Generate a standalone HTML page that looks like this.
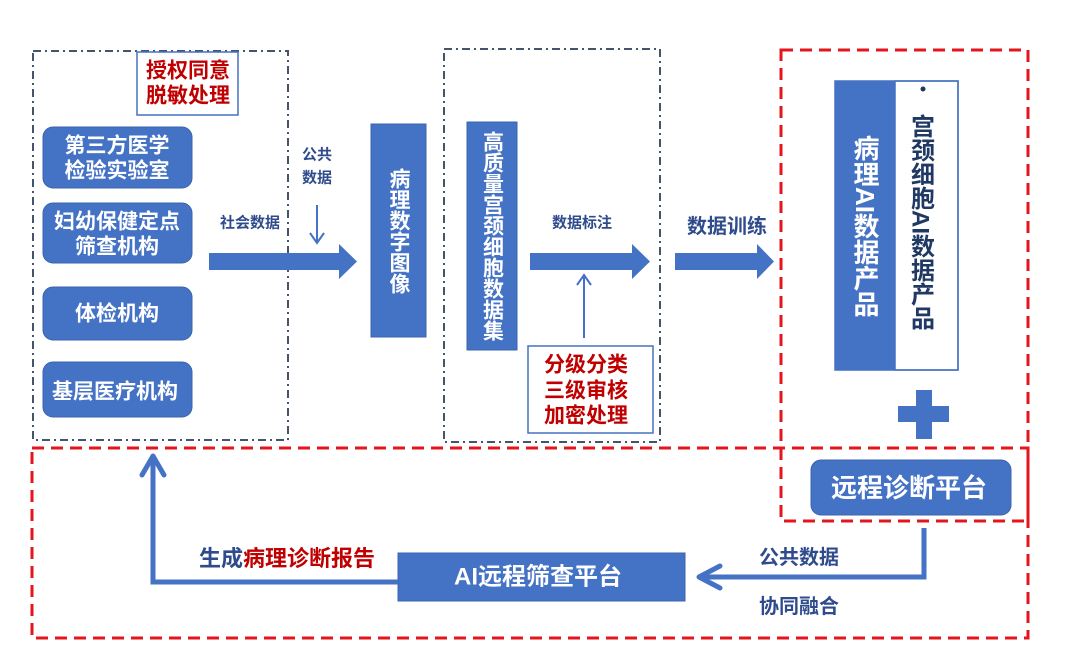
<!DOCTYPE html>
<html><head><meta charset="utf-8">
<style>
html,body{margin:0;padding:0;background:#fff;}
body{width:1074px;height:664px;position:relative;overflow:hidden;font-family:"Liberation Sans","Noto Sans CJK SC",sans-serif;}
svg{position:absolute;left:0;top:0;}
svg text{font-family:"Liberation Sans","Noto Sans CJK SC",sans-serif;font-weight:bold;}
.v{position:absolute;display:flex;align-items:center;justify-content:center;writing-mode:vertical-rl;font-weight:bold;line-height:1;}
</style></head><body>
<svg width="1074" height="664" viewBox="0 0 1074 664" xmlns="http://www.w3.org/2000/svg">
  <!-- dash-dot boxes -->
  <rect x="33" y="51" width="255" height="389" fill="none" stroke="#44546A" stroke-width="2" stroke-dasharray="8,4,2,4"/>
  <rect x="444" y="49" width="216" height="393" fill="none" stroke="#44546A" stroke-width="2" stroke-dasharray="8,4,2,4"/>

  <!-- red dashed boxes -->
  <rect x="781" y="50" width="247" height="471" fill="none" stroke="#E3161C" stroke-width="3" stroke-dasharray="12,7"/>
  <rect x="32" y="448" width="996" height="190" fill="none" stroke="#E3161C" stroke-width="3" stroke-dasharray="12,7"/>

  <!-- 授权 box -->
  <rect x="137" y="52" width="101" height="63" fill="#fff" stroke="#4472C4" stroke-width="1.5"/>
  <text x="188" y="71" font-size="21" fill="#C00000" text-anchor="middle" dominant-baseline="central">授权同意</text>
  <text x="188" y="96" font-size="21" fill="#C00000" text-anchor="middle" dominant-baseline="central">脱敏处理</text>

  <!-- left blue boxes -->
  <rect x="43" y="127" width="149" height="61" rx="10" fill="#4472C4" stroke="#3A64AE" stroke-width="1"/>
  <text x="117" y="146" font-size="21" fill="#fff" text-anchor="middle" dominant-baseline="central">第三方医学</text>
  <text x="117" y="171" font-size="21" fill="#fff" text-anchor="middle" dominant-baseline="central">检验实验室</text>

  <rect x="43" y="203" width="149" height="60" rx="10" fill="#4472C4" stroke="#3A64AE" stroke-width="1"/>
  <text x="117" y="222" font-size="21" fill="#fff" text-anchor="middle" dominant-baseline="central">妇幼保健定点</text>
  <text x="117" y="247" font-size="21" fill="#fff" text-anchor="middle" dominant-baseline="central">筛查机构</text>

  <rect x="43" y="287" width="149" height="53" rx="10" fill="#4472C4" stroke="#3A64AE" stroke-width="1"/>
  <text x="117" y="314" font-size="21" fill="#fff" text-anchor="middle" dominant-baseline="central">体检机构</text>

  <rect x="43" y="362" width="149" height="55" rx="10" fill="#4472C4" stroke="#3A64AE" stroke-width="1"/>
  <text x="115" y="392" font-size="21" fill="#fff" text-anchor="middle" dominant-baseline="central">基层医疗机构</text>

  <!-- labels -->
  <text x="250" y="223" font-size="15" fill="#2F4B8C" text-anchor="middle" dominant-baseline="central">社会数据</text>
  <text x="317" y="155" font-size="15" fill="#2F4B8C" text-anchor="middle" dominant-baseline="central">公共</text>
  <text x="317" y="178" font-size="15" fill="#2F4B8C" text-anchor="middle" dominant-baseline="central">数据</text>

  <!-- down arrow -->
  <line x1="317" y1="205" x2="317" y2="242" stroke="#4472C4" stroke-width="2"/>
  <polyline points="310,233 317,243 324,233" fill="none" stroke="#4472C4" stroke-width="2"/>

  <!-- big arrows -->
  <polygon points="209,253 339,253 339,244 357,261.5 339,279 339,270 209,270" fill="#4472C4"/>
  <polygon points="530,253 632,253 632,244 650,261.5 632,279 632,270 530,270" fill="#4472C4"/>
  <polygon points="675,253 757,253 757,244 774,261.5 757,279 757,270 675,270" fill="#4472C4"/>

  <!-- vertical blue boxes -->
  <rect x="371" y="124" width="55" height="213" fill="#4472C4" stroke="#3A64AE" stroke-width="1"/>
  <rect x="467" y="122" width="50" height="228" fill="#4472C4" stroke="#3A64AE" stroke-width="1"/>

  <text x="582" y="223" font-size="15" fill="#2F4B8C" text-anchor="middle" dominant-baseline="central">数据标注</text>

  <!-- up arrow -->
  <line x1="584" y1="338" x2="584" y2="276" stroke="#4472C4" stroke-width="2"/>
  <polyline points="577,285 584,275 591,285" fill="none" stroke="#4472C4" stroke-width="2"/>

  <!-- red text box -->
  <rect x="528" y="346" width="125" height="87" fill="#fff" stroke="#4472C4" stroke-width="1.5"/>
  <text x="586" y="365" font-size="21" fill="#C00000" text-anchor="middle" dominant-baseline="central">分级分类</text>
  <text x="586" y="391" font-size="21" fill="#C00000" text-anchor="middle" dominant-baseline="central">三级审核</text>
  <text x="586" y="416" font-size="21" fill="#C00000" text-anchor="middle" dominant-baseline="central">加密处理</text>

  <text x="727" y="227" font-size="20" fill="#2F4B8C" text-anchor="middle" dominant-baseline="central">数据训练</text>

  <!-- product boxes -->
  <rect x="835" y="81" width="60" height="289" fill="#4472C4"/>
  <rect x="895" y="81" width="63" height="289" fill="#fff" stroke="#4472C4" stroke-width="1.5"/>
  <rect x="835" y="81" width="123" height="289" fill="none" stroke="#4472C4" stroke-width="1.5"/>
  <circle cx="923" cy="89" r="2.5" fill="#203864"/>

  <!-- plus -->
  <rect x="898" y="406" width="51" height="16" fill="#4472C4"/>
  <rect x="916" y="390" width="16" height="49" fill="#4472C4"/>

  <!-- remote platform -->
  <rect x="811" y="460" width="200" height="55" rx="10" fill="#4472C4" stroke="#3A64AE" stroke-width="1"/>
  <text x="909" y="488" font-size="26" fill="#fff" text-anchor="middle" dominant-baseline="central">远程诊断平台</text>

  <!-- right connector -->
  <polyline points="924,528 924,577 700,577" fill="none" stroke="#4472C4" stroke-width="5"/>
  <polyline points="720,566 699,577 720,588" fill="none" stroke="#4472C4" stroke-width="5" stroke-linecap="round" stroke-linejoin="round"/>
  <text x="799" y="558" font-size="20" fill="#2F4B8C" text-anchor="middle" dominant-baseline="central">公共数据</text>
  <text x="799" y="607" font-size="20" fill="#2F4B8C" text-anchor="middle" dominant-baseline="central">协同融合</text>

  <!-- AI platform -->
  <rect x="398" y="553" width="287" height="48" fill="#4472C4" stroke="#3A64AE" stroke-width="1"/>
  <text x="538" y="577" font-size="24" fill="#fff" text-anchor="middle" dominant-baseline="central">AI远程筛查平台</text>

  <!-- left connector -->
  <polyline points="398,582 153,582 153,457" fill="none" stroke="#4472C4" stroke-width="5"/>
  <polyline points="142,475 153,456 164,475" fill="none" stroke="#4472C4" stroke-width="5" stroke-linecap="round" stroke-linejoin="round"/>
  <text x="287" y="558" font-size="22" text-anchor="middle" dominant-baseline="central"><tspan fill="#2F4B8C">生成</tspan><tspan fill="#C00000">病理诊断报告</tspan></text>
</svg>

<div class="v" style="left:371px;top:124px;width:55px;height:213px;font-size:21px;color:#fff;">病理数字图像</div>
<div class="v" style="left:467px;top:122px;width:50px;height:228px;font-size:21px;color:#fff;">高质量宫颈细胞数据集</div>
<div class="v" style="left:835px;top:81px;width:60px;height:289px;font-size:26px;color:#fff;">病理AI数据产品</div>
<div class="v" style="left:897px;top:112px;width:45px;height:220px;font-size:24px;color:#203864;">宫颈细胞AI数据产品</div>
</body></html>
